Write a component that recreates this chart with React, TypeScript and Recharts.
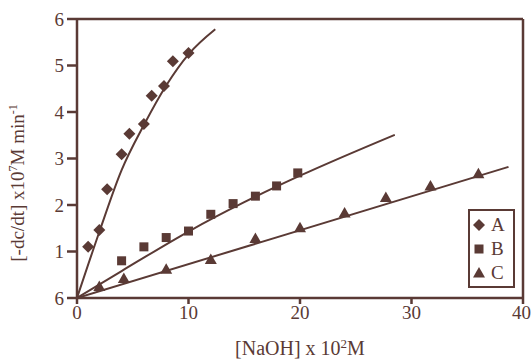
import {
  ComposedChart,
  Line,
  Scatter,
  XAxis,
  YAxis,
  ReferenceLine,
} from 'recharts';

// measured points
const aX = [1, 2, 2.7, 4, 4.7, 6, 6.7, 7.8, 8.6, 10];
const aY = [1.1, 1.46, 2.34, 3.09, 3.53, 3.74, 4.35, 4.56, 5.09, 5.27];
const bX = [4, 6, 8, 10, 12, 14, 16, 17.9, 19.8];
const bY = [0.8, 1.1, 1.3, 1.44, 1.8, 2.03, 2.19, 2.41, 2.69];
const cX = [2, 4.2, 8, 12, 16, 20, 24, 27.7, 31.7, 36];
const cY = [0.25, 0.42, 0.62, 0.83, 1.28, 1.51, 1.83, 2.16, 2.41, 2.67];

// fitted lines
const fitAX = [0, 2, 4, 6, 8, 10, 12.4];
const fitAY = [0, 1.42, 2.75, 3.72, 4.57, 5.24, 5.78];
const fitBX = [0, 4, 10, 15, 20, 28.5];
const fitBY = [0, 0.58, 1.43, 2.06, 2.63, 3.51];
const fitCX = [0, 38.7];
const fitCY = [0, 2.82];

const xTicks = [0, 10, 20, 30, 40];
const yTicks = [0, 1, 2, 3, 4, 5, 6];

const zip = (xs: number[], ys: number[]) => xs.map((x, i) => ({ x, y: ys[i] }));

const INK = '#5a3a35';
const FONT = '"Liberation Serif", "DejaVu Serif", serif';

const Diamond = ({ cx, cy }: any) => (
  <path d={`M${cx},${cy - 6}L${cx + 6},${cy}L${cx},${cy + 6}L${cx - 6},${cy}Z`} fill={INK} />
);
const Square = ({ cx, cy }: any) => (
  <rect x={cx - 4.5} y={cy - 4.5} width={9} height={9} fill={INK} />
);
const Triangle = ({ cx, cy }: any) => (
  <path d={`M${cx},${cy - 6}L${cx + 6},${cy + 4.5}L${cx - 6},${cy + 4.5}Z`} fill={INK} />
);

const legendItems = [
  { label: 'A', Shape: Diamond },
  { label: 'B', Shape: Square },
  { label: 'C', Shape: Triangle },
];

const LegendBox = () => (
  <g transform="translate(468 209)">
    <rect x={1} y={1} width={45} height={77} fill="white" stroke={INK} strokeWidth={2} />
    {legendItems.map(({ label, Shape }, i) => (
      <g key={label}>
        <Shape cx={11} cy={16 + i * 24} />
        <text x={23} y={22 + i * 24} fill={INK} fontFamily={FONT} fontSize={19}>
          {label}
        </text>
      </g>
    ))}
  </g>
);

const YTitle = () => (
  <text
    x={24}
    y={183}
    transform="rotate(-90 24 183)"
    textAnchor="middle"
    fill={INK}
    fontFamily={FONT}
    fontSize={19}
  >
    [-dc/dt] x10<tspan dy={-7} fontSize={12}>7</tspan>
    <tspan dy={7}>M min</tspan>
    <tspan dy={-7} fontSize={12}>-1</tspan>
  </text>
);

const XTitle = () => (
  <text x={300} y={355} textAnchor="middle" fill={INK} fontFamily={FONT} fontSize={20}>
    [NaOH] x 10<tspan dy={-7} fontSize={13}>2</tspan>
    <tspan dy={7}>M</tspan>
  </text>
);

const App = () => (
  <div style={{ position: 'absolute', left: 0, top: 0, background: 'white' }}>
    <ComposedChart
      width={531}
      height={362}
      margin={{ top: 19, right: 8, left: 0, bottom: 0 }}
    >
      <XAxis
        type="number"
        dataKey="x"
        domain={[0, 40]}
        ticks={xTicks}
        allowDataOverflow
        height={64}
        stroke={INK}
        strokeWidth={2.5}
        tickSize={6}
        tickMargin={2}
        tick={{ fill: INK, fontFamily: FONT, fontSize: 19 }}
      />
      <YAxis
        type="number"
        dataKey="y"
        domain={[0, 6]}
        ticks={yTicks}
        width={77}
        stroke={INK}
        strokeWidth={2.5}
        tickSize={10}
        tickMargin={3}
        tickFormatter={(v: number) => (v === 0 ? '6' : String(v))}
        tick={{ fill: INK, fontFamily: FONT, fontSize: 19 }}
      />
      <ReferenceLine y={6} stroke={INK} strokeWidth={2.5} />
      <ReferenceLine x={40} stroke={INK} strokeWidth={2.5} />
      <Line
        data={zip(fitAX, fitAY)}
        dataKey="y"
        type="monotone"
        stroke={INK}
        strokeWidth={2}
        dot={false}
        isAnimationActive={false}
      />
      <Line
        data={zip(fitBX, fitBY)}
        dataKey="y"
        type="monotone"
        stroke={INK}
        strokeWidth={2}
        dot={false}
        isAnimationActive={false}
      />
      <Line
        data={zip(fitCX, fitCY)}
        dataKey="y"
        type="linear"
        stroke={INK}
        strokeWidth={2}
        dot={false}
        isAnimationActive={false}
      />
      <Scatter name="A" data={zip(aX, aY)} shape={Diamond} isAnimationActive={false} />
      <Scatter name="B" data={zip(bX, bY)} shape={Square} isAnimationActive={false} />
      <Scatter name="C" data={zip(cX, cY)} shape={Triangle} isAnimationActive={false} />
      <LegendBox />
      <YTitle />
      <XTitle />
    </ComposedChart>
  </div>
);

export default App;
